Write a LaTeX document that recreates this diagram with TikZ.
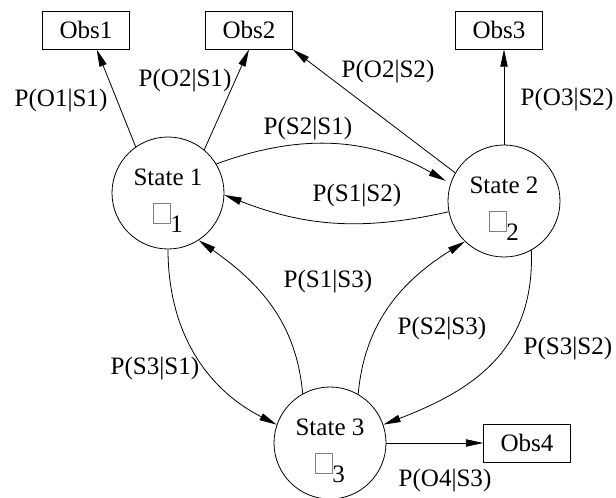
\documentclass[tikz,border=0pt]{standalone}
\usepackage{fontspec}
\setmainfont{Liberation Serif}
\usetikzlibrary{arrows.meta}
\newcommand{\pibox}{{\color{gray}\setlength{\fboxsep}{0pt}\setlength{\fboxrule}{0.5pt}\fbox{\rule{0pt}{15pt}\hspace{12pt}}}}
\begin{document}
\begin{tikzpicture}[x=0.75pt, y=-0.75pt, line width=0.6pt,
  font=\fontsize{18.8}{22.5}\selectfont,
  >={Triangle[length=13pt, width=5.5pt]},
  hstate/.style={draw, circle, minimum size=84pt, inner sep=0pt, align=center},
  obsbox/.style={draw, rectangle, minimum width=65pt, minimum height=28.5pt, inner sep=0pt},
  prob/.style={inner sep=0pt}]
  \useasboundingbox (0,0) rectangle (616,498);
  % states
  \node[hstate] (s1) at (168,193) {\rule{0pt}{24pt}State 1\\[6pt]\pibox\raisebox{-6.75pt}{1}};
  \node[hstate] (s2) at (504,201) {\rule{0pt}{24pt}State 2\\[6pt]\pibox\raisebox{-6.75pt}{2}};
  \node[hstate] (s3) at (330,443) {\rule{0pt}{24pt}State 3\\[6pt]\pibox\raisebox{-6.75pt}{3}};
  % observations
  \node[obsbox] (obs1) at (86,30) {Obs1};
  \node[obsbox] (obs2) at (249,30) {Obs2};
  \node[obsbox] (obs3) at (499,30) {Obs3};
  \node[obsbox] (obs4) at (527,443) {Obs4};
  % emissions
  \draw[->] (s1.125) -- ([xshift=8pt]obs1.south);
  \draw[->] (s1.50) -- (obs2.south);
  \draw[->] (s2.150) -- (obs2.south east);
  \draw[->] (s2.north) -- (s2.north |- obs3.south);
  \draw[->] (s3.east) -- (obs4.west);
  % transitions
  \draw[->, shorten >=4pt] (s1.31) to[bend left=25] (s2.162);
  \draw[->] (s2.191) to[bend left=17] (s1.358);
  \draw[->] (s1.south) to[out=-90, in=153] (s3.161);
  \draw[->] (s3.119) to[out=95, in=-35] (s1.303);
  \draw[->] (s3.60) to[out=85, in=212] (s2.226);
  \draw[->] (s2.299) to[out=-88, in=21, looseness=1.1] (s3.19);
  % labels
  \node[prob] (po1s1) at (61,101) {P(O1|S1)};
  \node[prob] (po2s1) at (185,81) {P(O2|S1)};
  \node[prob] (po2s2) at (388,72) {P(O2|S2)};
  \node[prob] (po3s2) at (567,100) {P(O3|S2)};
  \node[prob] (ps2s1) at (308,129) {P(S2|S1)};
  \node[prob] (ps1s2) at (357,196) {P(S1|S2)};
  \node[prob] (ps1s3) at (328,282) {P(S1|S3)};
  \node[prob] (ps2s3) at (442,329) {P(S2|S3)};
  \node[prob] (ps3s1) at (155,369) {P(S3|S1)};
  \node[prob] (ps3s2) at (568,349) {P(S3|S2)};
  \node[prob] (po4s3) at (445,481) {P(O4|S3)};
\end{tikzpicture}
\end{document}
